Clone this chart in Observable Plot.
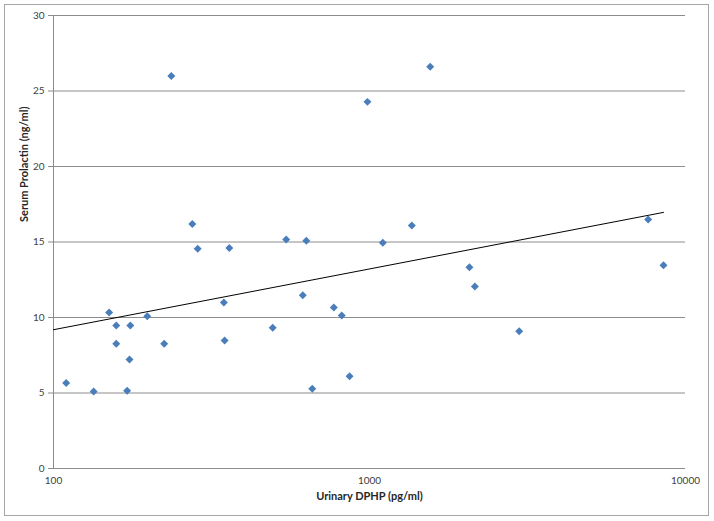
<!DOCTYPE html>
<html>
<head>
<meta charset="utf-8">
<script src="https://cdn.jsdelivr.net/npm/d3@7"></script>
<script src="https://cdn.jsdelivr.net/npm/@observablehq/plot@0.6"></script>
<style>
  html, body { margin: 0; padding: 0; background: #fff; }
  #wrap { position: relative; width: 714px; height: 521px; }
  #border { position: absolute; left: 4px; top: 4px; width: 705px; height: 512px; border: 1px solid #a6a6a6; box-sizing: border-box; }
  #chart { position: absolute; left: 0; top: 0; }
  svg { font-family: Lato, "Open Sans", sans-serif; }
</style>
</head>
<body>
<div id="wrap"><div id="border"></div><div id="chart"></div></div>
<script>
// Urinary DPHP (pg/ml)
const dphp = [109.7, 134, 150, 158, 158, 171, 174, 175, 198, 224, 236, 275, 286, 346, 348, 360, 494, 545, 615, 631, 659, 771, 817, 865, 985, 1102, 1361, 1556, 2071, 2155, 2977, 7620, 8520];
// Serum Prolactin (ng/ml)
const prolactin = [5.67, 5.1, 10.33, 9.47, 8.26, 5.15, 7.22, 9.47, 10.09, 8.26, 26.0, 16.2, 14.55, 10.99, 8.48, 14.6, 9.32, 15.17, 11.48, 15.08, 5.28, 10.66, 10.13, 6.11, 24.28, 14.95, 16.09, 26.6, 13.33, 12.05, 9.09, 16.49, 13.46];
const xTicks = [100, 1000, 10000];
const yTicks = [0, 5, 10, 15, 20, 25, 30];

const points = dphp.map((x, i) => ({x, y: prolactin[i]}));

// logarithmic trendline (least squares of y on log10 x)
const lx = dphp.map(Math.log10);
const mx = d3.mean(lx), my = d3.mean(prolactin);
const slope = d3.sum(lx.map((v, i) => (v - mx) * (prolactin[i] - my))) / d3.sum(lx.map(v => (v - mx) ** 2));
const intercept = my - slope * mx;
const trendX = [xTicks[0], d3.max(dphp)];
const trend = trendX.map(x => ({x, y: intercept + slope * Math.log10(x)}));

const plot = Plot.plot({
  width: 714,
  height: 521,
  marginLeft: 53,
  marginRight: 29,
  marginTop: 15,
  marginBottom: 53,
  style: {fontSize: "10px", color: "#404040", background: "transparent"},
  x: {type: "log", domain: [100, 10000], ticks: xTicks, tickFormat: d => String(d), label: null},
  y: {domain: [0, 30], ticks: yTicks, label: null},
  marks: [
    Plot.gridY(yTicks.filter(d => d > 0), {stroke: "#8c8c8c", strokeOpacity: 1}),
    Plot.ruleY([0], {stroke: "#8c8c8c"}),
    Plot.ruleX([100], {stroke: "#8c8c8c"}),
    Plot.axisY({ticks: yTicks, tickSize: 5, tickPadding: 4, stroke: "#8c8c8c", label: null}),
    Plot.axisX({ticks: xTicks, tickSize: 0, tickPadding: 8, tickFormat: d => String(d), label: null}),
    Plot.line(trend, {x: "x", y: "y", stroke: "black", strokeWidth: 1}),
    Plot.dot(points, {x: "x", y: "y", symbol: "diamond2", r: 3.6, fill: "#4a7ebb", stroke: "none"}),
    Plot.text(["Urinary DPHP (pg/ml)"], {frameAnchor: "bottom", dy: 31, fontWeight: "bold", fontSize: 11, fill: "#262626"}),
    Plot.text(["Serum Prolactin (ng/ml)"], {frameAnchor: "left", dx: -29, dy: -20, rotate: -90, fontWeight: "bold", fontSize: 11, fill: "#262626"})
  ]
});
document.getElementById("chart").appendChild(plot);
</script>
</body>
</html>
